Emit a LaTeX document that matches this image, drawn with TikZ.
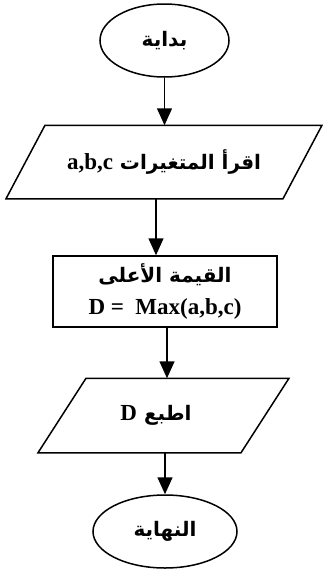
\documentclass[tikz,border=0pt]{standalone}
\usepackage{fontspec}
\setmainfont{Liberation Serif}
\newfontfamily\arabicfont[Script=Arabic]{DejaVu Sans}
\TeXXeTstate=1
\usetikzlibrary{shapes.geometric,arrows.meta}
\newcommand\arfnt{\arabicfont\bfseries\fontsize{20}{24}\selectfont}
\newcommand\latfnt{\rmfamily\bfseries\fontsize{23}{26}\selectfont}
\begin{document}
\begin{tikzpicture}[x=1pt,y=-1pt,
  line width=1.5pt,
  arr/.style={-{Triangle[width=15pt,length=17pt]}, line width=1.5pt},
  term/.style={ellipse, draw, inner sep=0pt},
  ar/.style={font=\arfnt},
  iobox/.style={inner sep=0pt, minimum height=72pt, minimum width=200pt},
  procbox/.style={draw, inner sep=0pt, minimum width=224pt, minimum height=71pt, align=center},
]
\useasboundingbox (0,0) rectangle (323,573);

\node[term, minimum width=129pt, minimum height=73pt, ar] (start) at (164.5,40.5) {\beginR بداية\endR};

\node[iobox] (in) at (164,162) {\arfnt\beginR اقرأ المتغيرات \beginL{\latfnt a,b,c}\endL\endR};
\draw ([xshift=-158pt]in.south) -- ([xshift=-119pt]in.north) -- ([xshift=158pt]in.north) -- ([xshift=119pt]in.south) -- cycle;

\node[procbox] (proc) at (165,291.5) {{\arfnt\beginR القيمة الأعلى\endR}\\[11pt]{\latfnt D =\ \ Max(a,b,c)}};

\node[iobox, minimum height=73pt] (out) at (156,415.5) {\arfnt\beginR اطبع \beginL{\latfnt D}\endL\endR};
\draw ([xshift=-118pt]out.south) -- ([xshift=-70pt]out.north) -- ([xshift=133pt]out.north) -- ([xshift=85pt]out.south) -- cycle;

\node[term, minimum width=144pt, minimum height=73pt, ar] (end) at (165,531.5) {\beginR النهاية\endR};

\draw[arr] (start.south) -- (start.south |- in.north);
\draw[arr] ([xshift=-8pt]in.south) -- ([xshift=-8pt]in.south |- proc.north);
\draw[arr] ([xshift=2pt]proc.south) -- ([xshift=2pt]proc.south |- out.north);
\draw[arr] ([xshift=9pt]out.south) -- ([xshift=9pt]out.south |- end.north);
\end{tikzpicture}
\end{document}
